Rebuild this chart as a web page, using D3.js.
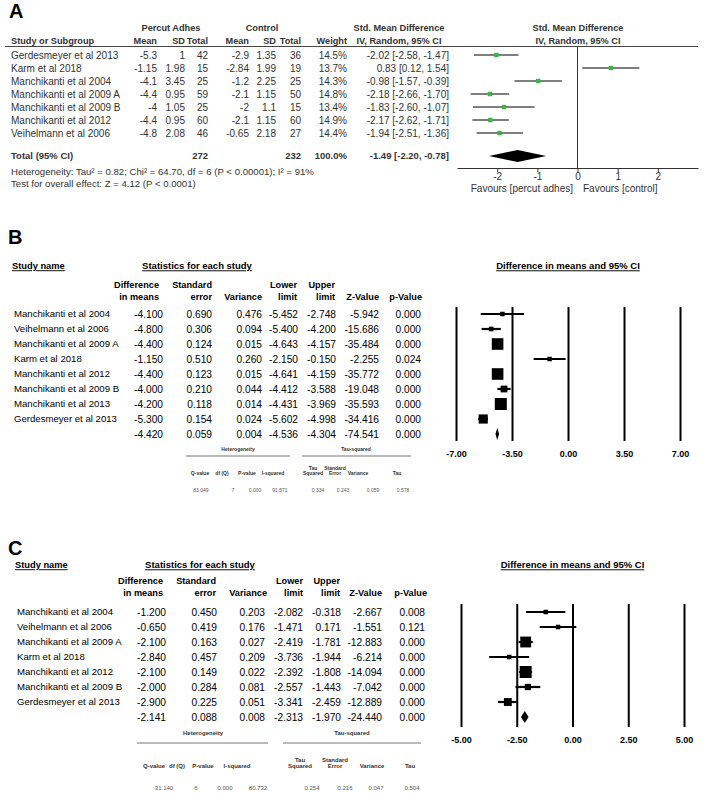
<!DOCTYPE html>
<html><head><meta charset="utf-8">
<script src="https://cdn.jsdelivr.net/npm/d3@7"></script>
<style>body{margin:0;background:#fff}svg{display:block}text{font-family:"Liberation Sans",Arial,sans-serif}</style>
</head><body><svg id="c" width="710" height="794"></svg>
<script>
// ---------- Panel A data ----------
const studiesA = ["Gerdesmeyer et al 2013","Karm et al 2018","Manchikanti et al 2004","Manchikanti et al 2009 A","Manchikanti et al 2009 B","Manchikanti et al 2012","Veihelmann et al 2006"];
const meanExpA = [-5.3,-1.15,-4.1,-4.4,-4,-4.4,-4.8];
const sdExpA = [1,1.98,3.45,0.95,1.05,0.95,2.08];
const nExpA = [42,15,25,59,25,60,46];
const meanCtlA = [-2.9,-2.84,-1.2,-2.1,-2,-2.1,-0.65];
const sdCtlA = [1.35,1.99,2.25,1.15,1.1,1.15,2.18];
const nCtlA = [36,19,25,50,15,60,27];
const weightA = [14.5,13.7,14.3,14.8,13.4,14.9,14.4];
const smdA = [-2.02,0.83,-0.98,-2.18,-1.83,-2.17,-1.94];
const lowA = [-2.58,0.12,-1.57,-2.66,-2.60,-2.62,-2.51];
const highA = [-1.47,1.54,-0.39,-1.70,-1.07,-1.71,-1.36];
const totalNA = [272,232];
const totalSmdA = [-1.49,-2.20,-0.78];
const hetStatsA = [0.82,64.70,6,91];
const overallZA = [4.12];
const ticksA = [-2,-1,0,1,2];

// ---------- Panel B data ----------
const studiesB = ["Manchikanti et al 2004","Veihelmann et al 2006","Manchikanti et al 2009 A","Karm et al 2018","Manchikanti et al 2012","Manchikanti et al 2009 B","Manchikanti et al 2013","Gerdesmeyer et al 2013"];
const diffB = [-4.100,-4.800,-4.400,-1.150,-4.400,-4.000,-4.200,-5.300];
const seB = [0.690,0.306,0.124,0.510,0.123,0.210,0.118,0.154];
const varB = [0.476,0.094,0.015,0.260,0.015,0.044,0.014,0.024];
const lowB = [-5.452,-5.400,-4.643,-2.150,-4.641,-4.412,-4.431,-5.602];
const upB = [-2.748,-4.200,-4.157,-0.150,-4.159,-3.588,-3.969,-4.998];
const zB = [-5.942,-15.686,-35.484,-2.255,-35.772,-19.048,-35.593,-34.416];
const pB = [0.000,0.000,0.000,0.024,0.000,0.000,0.000,0.000];
const summaryB = [-4.420,0.059,0.004,-4.536,-4.304,-74.541,0.000];
const hetB = [83.049,7,0.000,91.571];
const tauB = [0.334,0.243,0.059,0.578];
const ticksB = [-7,-3.5,0,3.5,7];

// ---------- Panel C data ----------
const studiesC = ["Manchikanti et al 2004","Veihelmann et al 2006","Manchikanti et al 2009 A","Karm et al 2018","Manchikanti et al 2012","Manchikanti et al 2009 B","Gerdesmeyer et al 2013"];
const diffC = [-1.200,-0.650,-2.100,-2.840,-2.100,-2.000,-2.900];
const seC = [0.450,0.419,0.163,0.457,0.149,0.284,0.225];
const varC = [0.203,0.176,0.027,0.209,0.022,0.081,0.051];
const lowC = [-2.082,-1.471,-2.419,-3.736,-2.392,-2.557,-3.341];
const upC = [-0.318,0.171,-1.781,-1.944,-1.808,-1.443,-2.459];
const zC = [-2.667,-1.551,-12.883,-6.214,-14.094,-7.042,-12.889];
const pC = [0.008,0.121,0.000,0.000,0.000,0.000,0.000];
const summaryC = [-2.141,0.088,0.008,-2.313,-1.970,-24.440,0.000];
const hetC = [31.140,6,0.000,80.732];
const tauC = [0.254,0.216,0.047,0.504];
const ticksC = [-5,-2.5,0,2.5,5];

const svg = d3.select("#c");
svg.append("rect").attr("width",710).attr("height",794).attr("fill","#fff");

function txt(g, x, y, s, o = {}) {
  return g.append("text").attr("x", x).attr("y", y).attr("dy", "0.35em")
    .attr("text-anchor", o.anchor || "start").attr("font-size", o.size || 10)
    .attr("font-weight", o.bold ? "bold" : "normal").attr("fill", o.fill || "#000")
    .attr("text-decoration", o.underline ? "underline" : null).text(s);
}
const f2 = v => v.toFixed(2), f3 = v => v.toFixed(3), f1 = v => v.toFixed(1);

// ================= PANEL A =================
(function () {
  const g = svg.append("g");
  const col = "#333", hs = 9.2;
  txt(g, 9, 11, "A", {size: 20, bold: true});
  txt(g, 171, 28, "Percut Adhes", {anchor: "middle", bold: true, fill: col, size: hs});
  txt(g, 262, 28, "Control", {anchor: "middle", bold: true, fill: col, size: hs});
  txt(g, 399, 28, "Std. Mean Difference", {anchor: "middle", bold: true, fill: col, size: hs});
  txt(g, 578, 28, "Std. Mean Difference", {anchor: "middle", bold: true, fill: col, size: hs});
  txt(g, 11, 41, "Study or Subgroup", {bold: true, fill: col, size: hs});
  const cols = [157, 185, 208, 249, 276, 301, 347];
  ["Mean", "SD", "Total", "Mean", "SD", "Total", "Weight"].forEach((h, i) => txt(g, cols[i], 41, h, {anchor: "end", bold: true, fill: col, size: hs}));
  txt(g, 399, 41, "IV, Random, 95% CI", {anchor: "middle", bold: true, fill: col, size: hs});
  txt(g, 578, 41, "IV, Random, 95% CI", {anchor: "middle", bold: true, fill: col, size: hs});
  g.append("line").attr("x1", 5).attr("x2", 698).attr("y1", 46.5).attr("y2", 46.5).attr("stroke", "#444");

  const y = d3.scalePoint().domain(studiesA).range([55, 133]);
  const x = d3.scaleLinear().domain([-3, 3]).range([457, 698]);
  const sz = d3.scaleSqrt().domain([0, d3.max(weightA)]).range([0, 4.5]);

  studiesA.forEach((s, i) => {
    const yy = y(s);
    txt(g, 11, yy, s, {fill: col});
    [meanExpA[i], sdExpA[i], nExpA[i], meanCtlA[i], sdCtlA[i], nCtlA[i]].forEach((v, j) => txt(g, cols[j], yy, String(v), {anchor: "end", fill: col}));
    txt(g, cols[6], yy, f1(weightA[i]) + "%", {anchor: "end", fill: col});
    txt(g, 449, yy, `${f2(smdA[i])} [${f2(lowA[i])}, ${f2(highA[i])}]`, {anchor: "end", fill: col});
    g.append("line").attr("x1", x(lowA[i])).attr("x2", x(highA[i])).attr("y1", yy).attr("y2", yy).attr("stroke", "#555").attr("stroke-width", 1.3);
    const s2 = sz(weightA[i]);
    g.append("rect").attr("x", x(smdA[i]) - s2 / 2).attr("y", yy - s2 / 2).attr("width", s2).attr("height", s2).attr("fill", "#3cb44a");
  });

  const ty = 156;
  txt(g, 11, ty, "Total (95% CI)", {bold: true, fill: col, size: 9.5});
  txt(g, cols[2], ty, String(totalNA[0]), {anchor: "end", bold: true, fill: col, size: 9.5});
  txt(g, cols[5], ty, String(totalNA[1]), {anchor: "end", bold: true, fill: col, size: 9.5});
  txt(g, cols[6], ty, f1(d3.sum(weightA)) + "%", {anchor: "end", bold: true, fill: col, size: 9.5});
  txt(g, 449, ty, `${f2(totalSmdA[0])} [${f2(totalSmdA[1])}, ${f2(totalSmdA[2])}]`, {anchor: "end", bold: true, fill: col, size: 9.5});
  g.append("path").attr("d", `M${x(totalSmdA[1])},${ty}L${x(totalSmdA[0])},${ty - 6}L${x(totalSmdA[2])},${ty}L${x(totalSmdA[0])},${ty + 6}Z`).attr("fill", "#000");

  txt(g, 11, 172, `Heterogeneity: Tau\u00b2 = ${f2(hetStatsA[0])}; Chi\u00b2 = ${f2(hetStatsA[1])}, df = ${hetStatsA[2]} (P < 0.00001); I\u00b2 = ${hetStatsA[3]}%`, {fill: col, size: 9.6});
  txt(g, 11, 184, `Test for overall effect: Z = ${f2(overallZA[0])} (P < 0.0001)`, {fill: col, size: 9.6});

  g.append("line").attr("x1", x(0)).attr("x2", x(0)).attr("y1", 46.5).attr("y2", 168).attr("stroke", "#333");
  const ax = g.append("g").attr("transform", "translate(0,168)")
    .call(d3.axisBottom(x).tickValues(ticksA).tickFormat(d => String(d)).tickSizeInner(4).tickSizeOuter(0).tickPadding(1));
  ax.select(".domain").attr("stroke", "#333");
  ax.selectAll(".tick line").attr("stroke", "#333");
  ax.selectAll("text").attr("font-size", 10).attr("fill", "#333").attr("font-family", '"Liberation Sans",Arial,sans-serif');
  txt(g, 573, 188, "Favours [percut adhes]", {anchor: "end", fill: col});
  txt(g, 583, 188, "Favours [control]", {fill: col});
})();

// ================= CMA PANELS (B, C) =================
function cmaPanel(d, c) {
  const g = svg.append("g");
  txt(g, 8, c.labelY, c.label, {size: 20, bold: true});
  const x = d3.scaleLinear().domain(c.xDomain).range(c.xRange);
  txt(g, c.nameX - 2, c.titleY, "Study name", {bold: true, size: 9.3, underline: true});
  txt(g, c.statX, c.titleY, "Statistics for each study", {anchor: "middle", bold: true, size: 9.5, underline: true});
  txt(g, x(0), c.titleY, "Difference in means and 95% CI", {anchor: "middle", bold: true, size: 9.5, underline: true});
  const h1 = ["Difference", "Standard", "", "Lower", "Upper", "", ""];
  const h2 = ["in means", "error", "Variance", "limit", "limit", "Z-Value", "p-Value"];
  h1.forEach((h, i) => { if (h) txt(g, c.hdr[i], c.h1Y, h, {anchor: "end", bold: true, size: 9.2}); });
  h2.forEach((h, i) => txt(g, c.hdr[i], c.h2Y, h, {anchor: "end", bold: true, size: 9.2}));

  const keys = d.studies.map((s, i) => i).concat(["sum"]);
  const y = d3.scalePoint().domain(keys).range([c.row0, c.row0 + 15 * d.studies.length]);
  const w = d.vars.map(v => 1 / v);
  const sz = d3.scaleSqrt().domain([0, d3.max(w)]).range([0, 12]);

  // vertical reference lines
  const ax = g.append("g").attr("transform", `translate(0,${c.lineBot})`)
    .call(d3.axisBottom(x).tickValues(d.ticks).tickFormat(v => v.toFixed(2)).tickSizeInner(-(c.lineBot - c.lineTop)).tickSizeOuter(0).tickPadding(10));
  ax.select(".domain").remove();
  ax.selectAll(".tick line").attr("stroke", "#000").attr("stroke-width", 2);
  ax.selectAll("text").attr("font-size", 9).attr("font-weight", "bold").attr("fill", "#000").attr("font-family", '"Liberation Sans",Arial,sans-serif');

  d.studies.forEach((s, i) => {
    const yy = y(i);
    txt(g, c.nameX, yy, s, {size: 9.6});
    [d.diff[i], d.se[i], d.vars[i], d.low[i], d.up[i], d.z[i], d.p[i]].forEach((v, j) => txt(g, c.cols[j], yy, f3(v), {anchor: "end", size: 10.2}));
    g.append("line").attr("x1", x(d.low[i])).attr("x2", x(d.up[i])).attr("y1", yy).attr("y2", yy).attr("stroke", "#000").attr("stroke-width", 2.2);
    const s2 = Math.max(4.5, sz(w[i]));
    g.append("rect").attr("x", x(d.diff[i]) - s2 / 2).attr("y", yy - s2 / 2).attr("width", s2).attr("height", s2).attr("fill", "#000");
  });
  const sy = y("sum");
  d.summary.forEach((v, j) => txt(g, c.cols[j], sy, f3(v), {anchor: "end", size: 10.2}));
  g.append("path").attr("d", `M${x(d.summary[3])},${sy}L${x(d.summary[0])},${sy - 6}L${x(d.summary[4])},${sy}L${x(d.summary[0])},${sy + 6}Z`).attr("fill", "#000");

  // heterogeneity mini-table
  const h = c.het, fs = h.size;
  txt(g, h.hetX, h.titleY, "Heterogeneity", {anchor: "middle", bold: true, size: fs, fill: "#333"});
  txt(g, h.tauX, h.titleY, "Tau-squared", {anchor: "middle", bold: true, size: fs, fill: "#333"});
  g.append("line").attr("x1", h.hetLine[0]).attr("x2", h.hetLine[1]).attr("y1", h.lineY).attr("y2", h.lineY).attr("stroke", "#777");
  g.append("line").attr("x1", h.tauLine[0]).attr("x2", h.tauLine[1]).attr("y1", h.lineY).attr("y2", h.lineY).attr("stroke", "#777");
  const hh = [["Q-value"], ["df (Q)"], ["P-value"], ["I-squared"], ["Tau", "Squared"], ["Standard", "Error"], ["Variance"], ["Tau"]];
  hh.forEach((lines, i) => {
    if (lines.length === 1) txt(g, h.hx[i], h.hY, lines[0], {anchor: "middle", bold: true, size: fs, fill: "#333"});
    else lines.forEach((l, k) => txt(g, h.hx[i], h.hY - fs * 1.05 * (1 - k), l, {anchor: "middle", bold: true, size: fs, fill: "#333"}));
  });
  const vals = [f3(d.het[0]), String(d.het[1]), f3(d.het[2]), f3(d.het[3]), ...d.tau.map(f3)];
  vals.forEach((v, i) => txt(g, h.vx[i], h.vY, v, {anchor: "middle", size: fs, fill: "#555"}));
}

cmaPanel(
  {studies: studiesB, diff: diffB, se: seB, vars: varB, low: lowB, up: upB, z: zB, p: pB, summary: summaryB, het: hetB, tau: tauB, ticks: ticksB},
  {label: "B", labelY: 237, titleY: 266, statX: 197, h1Y: 285, h2Y: 297, row0: 314, nameX: 14,
   cols: [163, 212, 262, 298, 336, 379, 421], hdr: [159, 212, 262, 297, 335, 379, 422],
   xDomain: [-7, 7], xRange: [456, 680], lineTop: 307, lineBot: 441,
   het: {size: 5, hetX: 238, tauX: 356, titleY: 449, lineY: 456, hetLine: [186, 290], tauLine: [302, 411],
         hY: 473, hx: [200, 222, 247, 273, 313, 335, 358, 397], vY: 490, vx: [201, 233, 255, 280, 318, 343, 373, 403]}}
);

cmaPanel(
  {studies: studiesC, diff: diffC, se: seC, vars: varC, low: lowC, up: upC, z: zC, p: pC, summary: summaryC, het: hetC, tau: tauC, ticks: ticksC},
  {label: "C", labelY: 548, titleY: 565, statX: 200, h1Y: 581, h2Y: 593, row0: 612, nameX: 17,
   cols: [166, 217, 265, 303, 341, 382, 425], hdr: [163, 216, 267, 303, 340, 382, 427],
   xDomain: [-5, 5], xRange: [461, 684], lineTop: 604, lineBot: 727,
   het: {size: 6, hetX: 203, tauX: 352, titleY: 733, lineY: 743, hetLine: [137, 268], tauLine: [283, 421],
         hY: 766, hx: [154, 177, 203, 237, 300, 335, 372, 410], vY: 788, vx: [164, 196, 225, 258, 312, 345, 376, 412]}}
);
</script></body></html>
